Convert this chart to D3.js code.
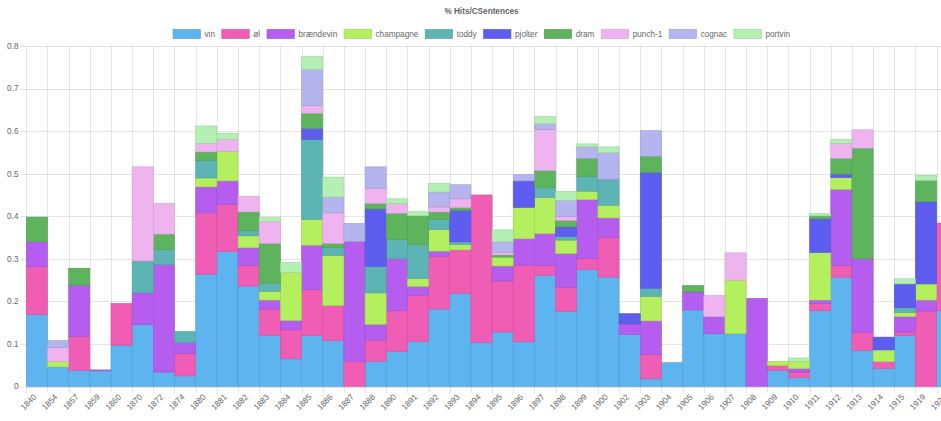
<!DOCTYPE html>
<html>
<head>
<meta charset="utf-8">
<script src="https://cdn.jsdelivr.net/npm/d3@7"></script>
<style>
body { margin: 0; background: #fff; }
svg { display: block; font-family: "Liberation Sans", Arial, Helvetica, sans-serif; }
.grid line { stroke: rgba(0,0,0,0.1); shape-rendering: crispEdges; }
.lbl { fill: #666; font-size: 8.2px; }
</style>
</head>
<body>
<svg width="941" height="421"></svg>
<script>
var years = ["1840","1854","1857","1859","1860","1870","1872","1874","1880","1881","1882","1883","1884","1885","1886","1887","1888","1890","1891","1892","1893","1894","1895","1896","1897","1898","1899","1900","1902","1903","1904","1905","1906","1907","1908","1909","1910","1911","1912","1913","1914","1915","1919","1920"];

var vin        = [.169,.046,.038,.037,.097,.146,.034,.025,.264,.317,.236,.120,.065,.120,.108,0,.059,.082,.106,.182,.219,.103,.128,.105,.261,.176,.275,.257,.122,.018,.056,.180,.124,.124,0,.038,.021,.178,.257,.085,.042,.120,0,.178];
var ol         = [.113,0,.080,0,.098,0,0,.052,.144,.111,.048,.062,.068,.108,.082,.059,.050,.096,.108,.124,.102,.347,.120,.180,.023,.057,.026,.093,0,.057,0,0,0,0,0,.011,.013,.017,.027,.042,.016,.008,.177,.206];
var braendevin = [.058,0,.120,.002,0,.074,.252,.026,.061,.055,.042,.021,.022,.104,0,.282,.037,.122,.021,.012,0,0,.035,.062,.075,.079,.138,.046,.025,.079,0,.042,.040,0,.207,0,.008,.008,.179,.173,0,.036,.026,0];
var champagne  = [0,.013,0,0,0,0,0,0,.021,.069,.028,.021,.113,.061,.118,0,.074,0,.019,.051,.013,0,.021,.074,.085,.032,.020,.030,0,.058,0,0,0,.126,0,.010,.017,.112,.028,0,.028,.010,.038,0];
var toddy      = [0,0,0,0,0,.075,.036,.026,.041,0,.012,.019,0,.188,.018,0,.062,.045,.079,.024,.006,0,0,0,.023,.009,.035,.061,0,.019,0,0,0,0,0,0,0,0,0,0,0,.011,0,0];
var pjolter    = [0,0,0,0,0,0,0,0,0,0,0,0,0,.025,0,0,.135,0,0,0,.074,0,0,.062,0,.022,0,0,.024,.272,0,0,0,0,0,0,0,.079,.008,0,.030,.056,.193,0];
var dram       = [.058,0,.040,0,0,0,.036,0,.020,0,.044,.093,0,.036,.010,0,.013,.062,.068,.017,.006,0,.005,0,.040,.015,.042,0,0,.038,0,.015,0,0,0,0,0,.007,.037,.260,0,0,.050,0];
var punch      = [0,.033,0,0,0,.221,.072,0,.020,.029,.037,.051,0,.018,.072,0,.036,.023,0,.012,.021,0,.006,0,.097,.009,0,0,0,0,0,0,.050,.064,0,0,0,0,.035,.043,0,0,0,0];
var cognac     = [0,.016,0,0,0,0,0,0,0,0,0,0,0,.085,.037,.042,.050,0,0,.035,.033,0,.025,.015,.013,.038,.027,.062,0,.060,0,0,0,0,0,0,0,0,0,0,0,0,0,0];
var portvin    = [0,0,0,0,0,0,0,0,.041,.014,0,.010,.023,.031,.047,0,0,.011,.010,.020,0,0,.028,0,.017,.021,.007,.014,0,0,0,0,0,0,0,0,.008,.005,.010,0,0,.012,.012,0];

var seriesNames  = ["vin","øl","brændevin","champagne","toddy","pjolter","dram","punch-1","cognac","portvin"];
var seriesValues = [vin, ol, braendevin, champagne, toddy, pjolter, dram, punch, cognac, portvin];
var seriesColors = ["#5eb4ef","#ef5db4","#b45def","#b4ef5d","#5db4b4","#5d5def","#5db45d","#efb4ef","#b4b4ef","#b4efb4"];
var yTicks = [0, 0.1, 0.2, 0.3, 0.4, 0.5, 0.6, 0.7, 0.8];

var svg = d3.select("svg"),
    chartWidth = 963,          // the chart is wider than the window, right side is cut off
    plotLeft = 26.3, plotRight = 957.8,
    plotTop = 46, plotBottom = 386.5;

var rows = years.map(function(yr, i) {
  var r = {year: yr};
  seriesNames.forEach(function(n, j) { r[n] = seriesValues[j][i]; });
  return r;
});

var x = d3.scaleBand().domain(years).range([plotLeft, plotRight]).padding(0);
var y = d3.scaleLinear().domain([0, 0.8]).range([plotBottom, plotTop]);

var stack = d3.stack().keys(seriesNames)(rows);

// grid
var grid = svg.append("g").attr("class", "grid");
grid.selectAll(".h").data(yTicks).enter().append("line")
    .attr("x1", plotLeft - 6).attr("x2", chartWidth)
    .attr("y1", function(d) { return Math.round(y(d)) + 0.5; })
    .attr("y2", function(d) { return Math.round(y(d)) + 0.5; });
var bounds = years.map(function(d) { return x(d); }).concat([plotRight]);
grid.selectAll(".v").data(bounds).enter().append("line")
    .attr("x1", function(d) { return Math.round(d) + 0.5; })
    .attr("x2", function(d) { return Math.round(d) + 0.5; })
    .attr("y1", plotTop).attr("y2", plotBottom + 6);

// bars
var layer = svg.append("g").selectAll("g")
    .data(stack)
  .enter().append("g")
    .attr("fill", function(d, i) { return seriesColors[i]; })
    .attr("stroke", function(d, i) { return d3.color(seriesColors[i]).darker(0.4); })
    .attr("stroke-width", 0.6);

layer.selectAll("rect")
    .data(function(d) { return d.filter(function(p) { return p[1] - p[0] > 0; }); })
  .enter().append("rect")
    .attr("x", function(d) { return x(d.data.year); })
    .attr("y", function(d) { return y(d[1]); })
    .attr("width", x.bandwidth())
    .attr("height", function(d) { return y(d[0]) - y(d[1]); });

// y axis labels
svg.append("g").selectAll("text").data(yTicks).enter().append("text")
    .attr("class", "lbl")
    .attr("x", 18.5)
    .attr("y", function(d) { return y(d); })
    .attr("dy", "0.35em")
    .attr("text-anchor", "end")
    .text(function(d) { return d === 0 ? "0" : d3.format(".1f")(d); });

// x axis labels, rotated
svg.append("g").selectAll("text").data(years).enter().append("text")
    .attr("class", "lbl")
    .attr("transform", function(d) {
      return "translate(" + (x(d) + x.bandwidth() / 2 - 2) + "," + (plotBottom + 9) + ") rotate(-45)";
    })
    .attr("dy", "0.35em")
    .attr("text-anchor", "end")
    .text(function(d) { return d; });

// title
svg.append("text")
    .attr("x", chartWidth / 2)
    .attr("y", 13.5)
    .attr("text-anchor", "middle")
    .attr("fill", "#666")
    .attr("font-size", "8.2px")
    .attr("font-weight", "bold")
    .text("% Hits/CSentences");

// legend
var legend = svg.append("g");
var items = legend.selectAll("g").data(seriesNames).enter().append("g");
items.append("rect")
    .attr("y", 29.5).attr("width", 27.4).attr("height", 9)
    .attr("fill", function(d, i) { return seriesColors[i]; })
    .attr("stroke", function(d, i) { return d3.color(seriesColors[i]).darker(0.4); })
    .attr("stroke-width", 0.6);
items.append("text")
    .attr("class", "lbl")
    .attr("x", 31.5).attr("y", 34).attr("dy", "0.35em")
    .text(function(d) { return d; });

var widths = [];
items.each(function() { widths.push(27.4 + 4.1 + d3.select(this).select("text").node().getComputedTextLength()); });
var total = d3.sum(widths) + 6.85 * (widths.length - 1);
var pos = chartWidth / 2 - total / 2;
items.attr("transform", function(d, i) {
  var t = "translate(" + pos + ",0)";
  pos += widths[i] + 6.85;
  return t;
});
</script>
</body>
</html>
